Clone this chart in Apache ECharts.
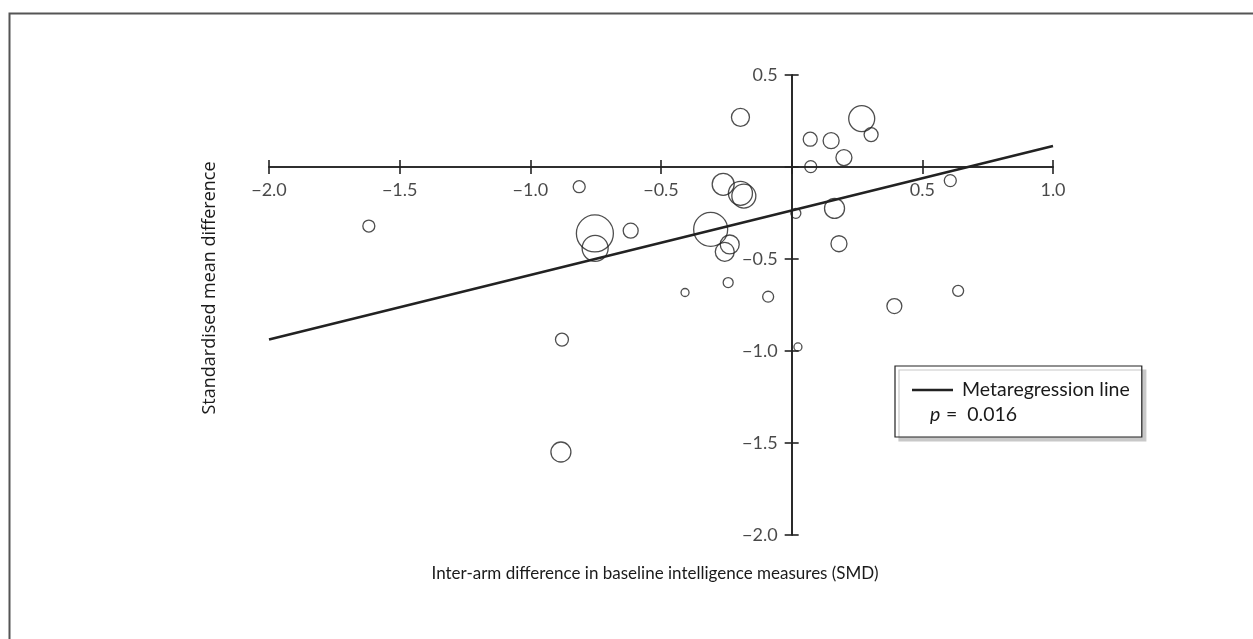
<!DOCTYPE html>
<html>
<head>
<meta charset="utf-8">
<script src="https://cdn.jsdelivr.net/npm/echarts@6/dist/echarts.min.js"></script>
<style>
html,body{margin:0;padding:0;background:#fff;}
#chart{width:1253px;height:639px;}
</style>
</head>
<body>
<div id="chart"></div>
<script>
// Inter-arm difference in baseline intelligence (SMD)
const baselineDiff = [-1.618,-0.813,-0.753,-0.752,-0.616,-0.879,-0.883,-0.408,-0.310,-0.262,-0.237,-0.256,-0.243,-0.196,-0.196,-0.183,-0.090,0.016,0.024,0.071,0.073,0.151,0.164,0.181,0.200,0.268,0.304,0.393,0.607,0.637];
// Standardised mean difference (outcome)
const outcomeSMD = [-0.321,-0.107,-0.361,-0.442,-0.346,-0.938,-1.549,-0.682,-0.339,-0.094,-0.421,-0.461,-0.628,0.270,-0.143,-0.158,-0.705,-0.252,-0.978,0.151,0.002,0.143,-0.225,-0.417,0.051,0.263,0.176,-0.756,-0.074,-0.673];
// Relative study weights (bubble area)
const studyWeight = [36,36,342,169,56,42,100,16,289,121,90,90,25,81,144,144,30,25,16,49,36,64,100,64,64,169,49,56,36,30];
// Metaregression line end points
const regX = [-2.0, 1.0];
const regY = [-0.938, 0.114];
// Tick values and labels
const xTickValues = [-2.0, -1.5, -1.0, -0.5, 0.5, 1.0];
const xTickLabels = ['−2.0', '−1.5', '−1.0', '−0.5', '0.5', '1.0'];
const yTickValues = [0.5, -0.5, -1.0, -1.5, -2.0];
const yTickLabels = ['0.5', '−0.5', '−1.0', '−1.5', '−2.0'];
const xTitle = 'Inter-arm difference in baseline intelligence measures (SMD)';
const yTitle = 'Standardised mean difference';
const legendName = 'Metaregression line';
const pText = '=  0.016';

const FONT = 'Lato';
const INK = '#1a1a1a';

const chart = echarts.init(document.getElementById('chart'), null, {renderer:'canvas'});

const points = baselineDiff.map((x,i)=>[x, outcomeSMD[i], studyWeight[i]]);
const linePts = regX.map((x,i)=>[x, regY[i]]);
const xLabelPts = xTickValues.map((v,i)=>({value:[v,0], name:xTickLabels[i]}));
const yLabelPts = yTickValues.map((v,i)=>({value:[0,v], name:yTickLabels[i]}));

const axisCommon = {
  type:'value',
  axisLine:{show:true, onZero:true, onZeroAxisIndex:0, lineStyle:{color:'#222', width:1.6}},
  axisTick:{show:true, length:7, lineStyle:{color:'#222', width:1.6}},
  axisLabel:{show:false},
  splitLine:{show:false},
};

const labelSeries = (data, pos) => ({
  type:'scatter', data, symbolSize:0, silent:true,
  itemStyle:{color:'rgba(0,0,0,0)'},
  label:{show:true, position:pos, distance:14, formatter:p=>p.name, color:INK, fontFamily:FONT, fontSize:18},
  z:5
});

chart.setOption({
  animation:false,
  backgroundColor:'#fff',
  grid:{left:269, right:200, top:75, bottom:104, containLabel:false},
  xAxis:[
    Object.assign({}, axisCommon, {min:-2, max:1, interval:0.5, position:'bottom'}),
    Object.assign({}, axisCommon, {min:-2, max:1, interval:0.5, position:'top'})
  ],
  yAxis:[
    Object.assign({}, axisCommon, {min:-2, max:0.5, interval:0.5, position:'left'}),
    Object.assign({}, axisCommon, {min:-2, max:0.5, interval:0.5, position:'right'})
  ],
  legend:{
    show:true,
    left:895, top:366,
    orient:'vertical',
    data:[{name:legendName, icon:'rect'}],
    itemWidth:41, itemHeight:2.5,
    padding:[14,12,37,17],
    backgroundColor:'#fff',
    borderColor:'#222', borderWidth:1.2,
    shadowColor:'#c8c8c8', shadowBlur:0, shadowOffsetX:4, shadowOffsetY:4,
    textStyle:{color:INK, fontFamily:FONT, fontSize:19.5, padding:[0,0,0,4]},
    selectedMode:false
  },
  graphic:[
    {type:'rect', left:7, top:11, shape:{width:1300, height:700}, style:{fill:'none', stroke:'#555', lineWidth:2}, silent:true, z:-1},
    {type:'text', x:655, y:574, style:{text:xTitle, font:'17px Lato', fill:INK, align:'center', verticalAlign:'middle'}},
    {type:'text', x:210, y:288, rotation:Math.PI/2, style:{text:yTitle, font:'18px "Open Sans"', fill:INK, align:'center', verticalAlign:'middle'}},
    {type:'text', x:930, y:415, style:{text:'p', font:'italic 19.5px Lato', fill:INK, verticalAlign:'middle'}, z:100},
    {type:'text', x:946, y:415, style:{text:pText, font:'19.5px Lato', fill:INK, verticalAlign:'middle'}, z:100}
  ],
  series:[
    {
      type:'scatter', name:'Studies',
      data:points,
      symbol:'circle',
      symbolSize: d => 2*Math.sqrt(d[2]),
      itemStyle:{color:'rgba(255,255,255,0)', borderColor:'#222', borderWidth:1.3},
      z:3
    },
    {
      type:'line', name:legendName,
      data:linePts,
      showSymbol:false, symbol:'none',
      lineStyle:{color:'#222', width:2.6},
      itemStyle:{color:'#222'},
      z:4
    },
    labelSeries(xLabelPts, 'bottom'),
    labelSeries(yLabelPts, 'left')
  ]
});
</script>
</body>
</html>
